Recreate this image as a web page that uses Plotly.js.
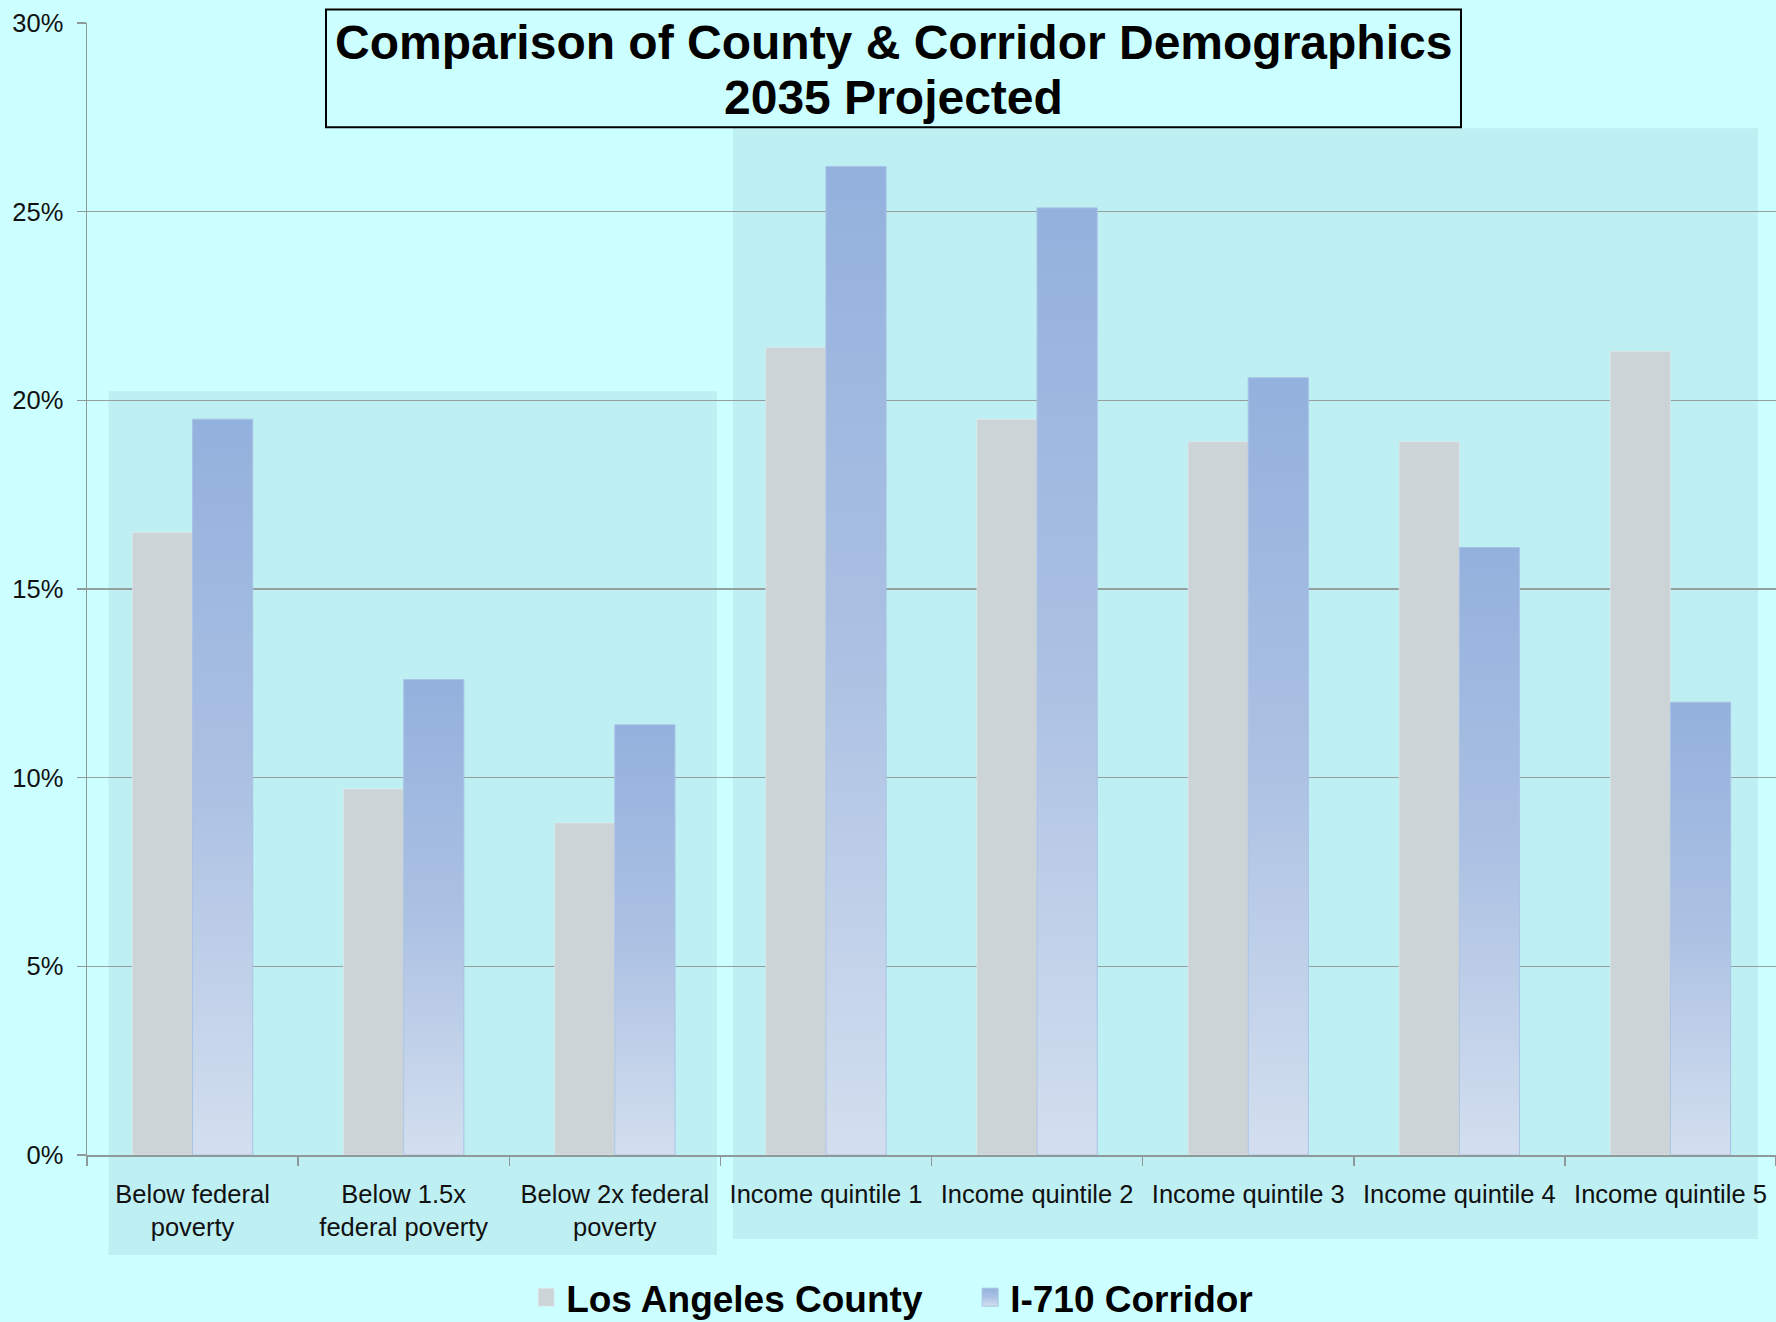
<!DOCTYPE html>
<html>
<head>
<meta charset="utf-8">
<script src="https://cdn.plot.ly/plotly-3.0.1.min.js"></script>
<style>
  html, body { margin: 0; padding: 0; background: #CCFFFF; }
  #chart { width: 1776px; height: 1322px; }
</style>
</head>
<body>
<div id="chart"></div>
<script>
// ---- data ----
const categories = [
  "Below federal<br>poverty",
  "Below 1.5x<br>federal poverty",
  "Below 2x federal<br>poverty",
  "Income quintile 1",
  "Income quintile 2",
  "Income quintile 3",
  "Income quintile 4",
  "Income quintile 5"
];
const laCounty = [16.5, 9.7, 8.8, 21.4, 19.5, 18.9, 18.9, 21.3];
const corridor = [19.5, 12.6, 11.4, 26.2, 25.1, 20.6, 16.1, 12.0];
const seriesNames = ["Los Angeles County", "I-710 Corridor"];
const titleLines = ["Comparison of County & Corridor Demographics", "2035 Projected"];

const FONT = "Arial, 'Liberation Sans', sans-serif";

const traces = [
  {
    type: "bar", name: seriesNames[0], x: categories, y: laCounty,
    marker: { color: "#CCD4D7", line: { color: "rgba(230,235,238,0.6)", width: 1 } },
    hoverinfo: "skip"
  },
  {
    type: "bar", name: seriesNames[1], x: categories, y: corridor,
    marker: { color: "#A8BFE3", line: { color: "#A9C2E6", width: 1 } },
    hoverinfo: "skip"
  }
];

const layout = {
  width: 1776, height: 1322,
  margin: { l: 87, r: 0, t: 23, b: 167, pad: 0, autoexpand: false },
  paper_bgcolor: "#CCFFFF",
  plot_bgcolor: "rgba(0,0,0,0)",
  barmode: "group",
  bargap: 0.43,
  bargroupgap: 0,
  font: { family: FONT, color: "#111111", size: 25 },
  xaxis: {
    type: "category",
    showgrid: false,
    showline: true, linecolor: "#8E9A9A", linewidth: 1.5,
    ticks: "outside", tickson: "boundaries", ticklen: 9, tickcolor: "#8E9A9A", tickwidth: 1.5,
    tickfont: { family: FONT, size: 25.5, color: "#111111" },
    ticklabelstandoff: 16,
    automargin: false
  },
  yaxis: {
    range: [0, 30], dtick: 5, ticksuffix: "%",
    showgrid: true, gridcolor: "#959F9F", gridwidth: 1.5,
    zeroline: false,
    showline: true, linecolor: "#8E9A9A", linewidth: 1.5,
    ticks: "outside", ticklen: 9, tickcolor: "#8E9A9A", tickwidth: 1.5,
    tickfont: { family: FONT, size: 25.5, color: "#111111" },
    ticklabelstandoff: 8,
    automargin: false
  },
  showlegend: true,
  legend: {
    orientation: "h", x: 0.260, xanchor: "left", y: -0.126, yanchor: "middle",
    font: { family: FONT, size: 37, color: "#000000", weight: "bold" },
    bgcolor: "rgba(0,0,0,0)", itemwidth: 30, tracegroupgap: 0,
    entrywidth: 399, entrywidthmode: "pixels",
    traceorder: "normal"
  },
  shapes: [
    { type: "rect", xref: "paper", yref: "paper", x0: 0.0128, x1: 0.373, y0: -0.0883, y1: 0.6748,
      fillcolor: "#BEEFF2", line: { width: 0 }, layer: "below" },
    { type: "rect", xref: "paper", yref: "paper", x0: 0.3825, x1: 0.9893, y0: -0.0742, y1: 0.907,
      fillcolor: "#BEEFF2", line: { width: 0 }, layer: "below" },
    // title box
    { type: "rect", xref: "paper", yref: "paper", x0: 0.1415, x1: 0.8135, y0: 0.9078, y1: 1.012,
      fillcolor: "#CCFFFF", line: { color: "#000000", width: 2 }, layer: "above" }
  ],
  annotations: [
    {
      xref: "paper", yref: "paper", x: 0.4775, y: 0.9829, xanchor: "center", yanchor: "middle",
      text: "<b>" + titleLines[0] + "</b>", showarrow: false,
      font: { family: FONT, size: 48, color: "#000000" }
    },
    {
      xref: "paper", yref: "paper", x: 0.4775, y: 0.9343, xanchor: "center", yanchor: "middle",
      text: "<b>" + titleLines[1] + "</b>", showarrow: false,
      font: { family: FONT, size: 48, color: "#000000" }
    }
  ]
};

function applyGradient(gd) {
  const svg = gd.querySelector(".main-svg");
  if (!svg) return;
  const ns = "http://www.w3.org/2000/svg";
  if (!document.getElementById("i710grad")) {
    let defs = svg.querySelector("defs");
    if (!defs) { defs = document.createElementNS(ns, "defs"); svg.insertBefore(defs, svg.firstChild); }
    const lg = document.createElementNS(ns, "linearGradient");
    lg.setAttribute("id", "i710grad");
    lg.setAttribute("x1", "0"); lg.setAttribute("y1", "0");
    lg.setAttribute("x2", "0"); lg.setAttribute("y2", "1");
    [["0", "#93B1DD"], ["0.5", "#ACC1E3"], ["1", "#D3DFEF"]].forEach(([o, c]) => {
      const s = document.createElementNS(ns, "stop");
      s.setAttribute("offset", o); s.setAttribute("stop-color", c);
      lg.appendChild(s);
    });
    defs.appendChild(lg);
  }
  const barTraces = gd.querySelectorAll(".barlayer .trace");
  if (barTraces[1]) {
    barTraces[1].querySelectorAll("path").forEach(p => { p.style.fill = "url(#i710grad)"; });
  }
  const legTraces = gd.querySelectorAll(".legend .traces");
  legTraces.forEach((t, i) => {
    t.querySelectorAll(".legendpoints path").forEach(p => {
      p.setAttribute("d", "M8,9H-8V-9H8Z");
      if (i === 1) p.style.fill = "url(#i710grad)";
    });
  });
}

const gd = document.getElementById("chart");
Plotly.newPlot(gd, traces, layout, { staticPlot: true, displayModeBar: false }).then(() => {
  applyGradient(gd);
  gd.on && gd.on("plotly_afterplot", () => applyGradient(gd));
});
</script>
</body>
</html>
